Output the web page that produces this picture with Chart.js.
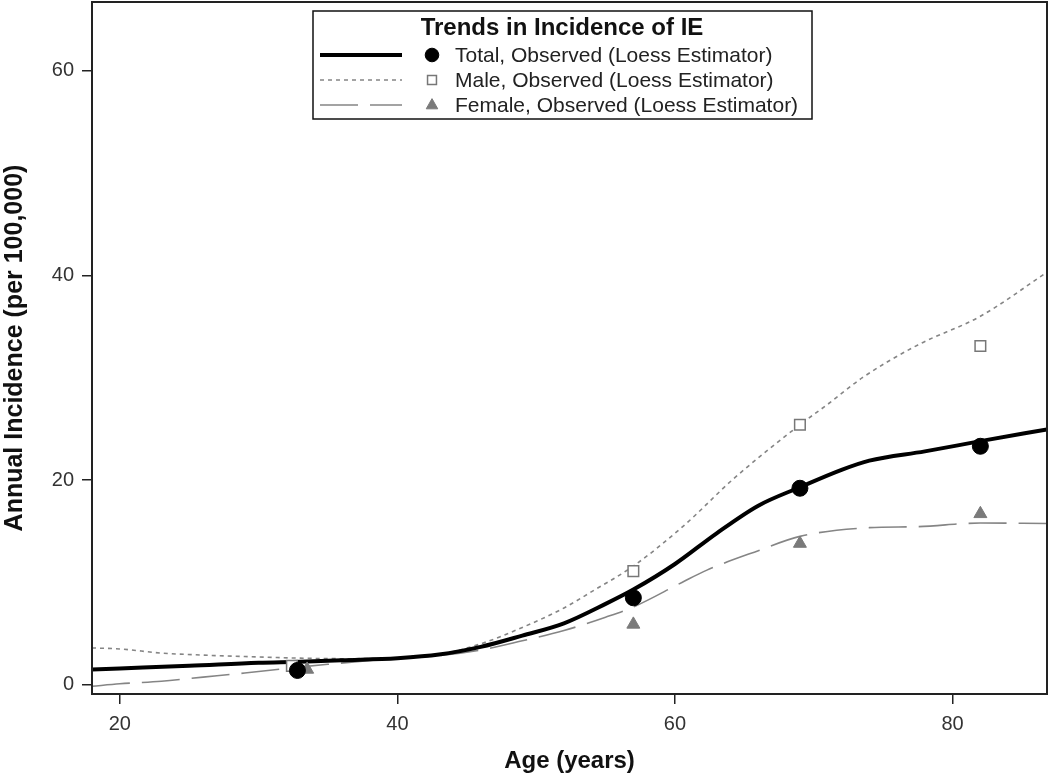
<!DOCTYPE html>
<html>
<head>
<meta charset="utf-8">
<title>Trends in Incidence of IE</title>
<script src="https://cdn.jsdelivr.net/npm/chart.js@4/dist/chart.umd.min.js"></script>
<style>
  html, body { margin: 0; padding: 0; background: #fff; }
  #wrap { position: relative; width: 1050px; height: 779px; }
</style>
</head>
<body>
<div id="wrap"><canvas id="chart" width="1050" height="779"></canvas></div>
<script>
// Loess fitted curves (age grid + values)
const totalAges = [18, 20, 25, 30, 33, 36, 40, 43, 46, 49, 52, 55, 57, 60, 63, 66, 69, 72, 74, 78, 82, 86.8];
const totalFit  = [1.5, 1.6, 1.85, 2.15, 2.25, 2.4, 2.6, 2.95, 3.7, 4.8, 6.0, 7.9, 9.3, 11.8, 14.8, 17.5, 19.3, 21.0, 21.9, 22.8, 23.8, 24.95];

const maleAges = [18, 20, 23, 26, 29, 33, 36, 40, 43, 46, 49, 52, 54, 57, 60.6, 64.2, 69, 71, 73.5, 77.5, 82, 86.8];
const maleFit  = [3.6, 3.5, 3.1, 2.9, 2.76, 2.6, 2.55, 2.6, 2.95, 4.0, 5.6, 7.5, 9.1, 11.6, 15.5, 20.1, 25.4, 27.4, 30.0, 33.2, 36.0, 40.3];

const femaleAges = [18, 20, 23, 26, 29, 32, 35, 40, 43, 46, 49, 52, 55, 57, 60.5, 62.3, 66, 69, 74, 77.5, 82, 86.8];
const femaleFit  = [-0.15, 0.1, 0.35, 0.75, 1.15, 1.6, 2.0, 2.6, 2.85, 3.4, 4.3, 5.3, 6.6, 7.6, 10.0, 11.2, 13.1, 14.5, 15.35, 15.45, 15.8, 15.75];

// Observed values
const totalObsAges  = [32.8, 57, 69, 82];
const totalObs      = [1.4, 8.5, 19.2, 23.3];
const maleObsAges   = [32.4, 57, 69, 82];
const maleObs       = [1.85, 11.1, 25.4, 33.1];
const femaleObsAges = [33.5, 57, 69, 82];
const femaleObs     = [1.5, 5.9, 13.8, 16.7];

const xTicks = [20, 40, 60, 80];
const yTicks = [0, 20, 40, 60];

const legendTitle = 'Trends in Incidence of IE';
const legendLabels = [
  'Total, Observed (Loess Estimator)',
  'Male, Observed (Loess Estimator)',
  'Female, Observed (Loess Estimator)',
];

const pts = (xs, ys) => xs.map((x, i) => ({ x, y: ys[i] }));

const GRAY = '#858585';
const FONT = '"Liberation Sans", Arial, sans-serif';

// frame round the plot area + boxed legend
const framePlugin = {
  id: 'frame',
  afterDraw(chart) {
    const { ctx, chartArea: a } = chart;
    ctx.save();
    ctx.strokeStyle = '#222';
    ctx.lineWidth = 2;
    ctx.strokeRect(a.left, a.top, a.right - a.left, a.bottom - a.top);

    // legend box
    const bx = 313, by = 11, bw = 499, bh = 108;
    ctx.fillStyle = '#fff';
    ctx.fillRect(bx, by, bw, bh);
    ctx.lineWidth = 1.5;
    ctx.strokeStyle = '#111';
    ctx.strokeRect(bx, by, bw, bh);

    ctx.fillStyle = '#111';
    ctx.font = 'bold 24px ' + FONT;
    ctx.textAlign = 'center';
    ctx.textBaseline = 'middle';
    ctx.fillText(legendTitle, 562, 28);

    const rows = [55, 80, 105];
    const lineX0 = 320, lineX1 = 402, markX = 432, textX = 455;
    const ds = chart.data.datasets;
    rows.forEach((y, i) => {
      const ld = ds[i];
      ctx.save();
      ctx.strokeStyle = ld.borderColor;
      ctx.lineWidth = ld.borderWidth;
      ctx.setLineDash(ld.borderDash || []);
      ctx.beginPath();
      ctx.moveTo(lineX0, y);
      ctx.lineTo(lineX1, y);
      ctx.stroke();
      ctx.restore();

      const md = ds[i + 3];
      const r = md.pointRadius * 0.85;
      ctx.save();
      ctx.fillStyle = md.backgroundColor;
      ctx.strokeStyle = md.borderColor;
      ctx.lineWidth = md.borderWidth;
      ctx.beginPath();
      if (md.pointStyle === 'circle') {
        ctx.arc(markX, y, r, 0, Math.PI * 2);
      } else if (md.pointStyle === 'rect') {
        const s = r * 1.4;
        ctx.rect(markX - s / 2, y - s / 2, s, s);
      } else {
        ctx.moveTo(markX, y - r);
        ctx.lineTo(markX + r * 0.9, y + r * 0.6);
        ctx.lineTo(markX - r * 0.9, y + r * 0.6);
        ctx.closePath();
      }
      ctx.fill();
      ctx.stroke();
      ctx.restore();

      ctx.fillStyle = '#222';
      ctx.font = '21px ' + FONT;
      ctx.textAlign = 'left';
      ctx.textBaseline = 'middle';
      ctx.fillText(legendLabels[i], textX, y + 1);
    });
    ctx.restore();
  },
};

function fitX(s) {
  s.height = 85;
  s.paddingLeft = 0;
  s.paddingRight = 0;
}
function fitY(s) {
  s.width = 92;
  s.paddingTop = 0;
  s.paddingBottom = 0;
}

new Chart(document.getElementById('chart').getContext('2d'), {
  type: 'scatter',
  data: {
    datasets: [
      {
        label: 'Total fit',
        data: pts(totalAges, totalFit),
        showLine: true,
        borderColor: '#000',
        borderWidth: 4,
        pointRadius: 0,
        cubicInterpolationMode: 'monotone',
        order: 2,
      },
      {
        label: 'Male fit',
        data: pts(maleAges, maleFit),
        showLine: true,
        borderColor: GRAY,
        borderWidth: 1.6,
        borderDash: [4, 4],
        pointRadius: 0,
        cubicInterpolationMode: 'monotone',
        order: 3,
      },
      {
        label: 'Female fit',
        data: pts(femaleAges, femaleFit),
        showLine: true,
        borderColor: GRAY,
        borderWidth: 1.6,
        borderDash: [38, 12],
        pointRadius: 0,
        cubicInterpolationMode: 'monotone',
        order: 3,
      },
      {
        label: 'Total observed',
        data: pts(totalObsAges, totalObs),
        pointStyle: 'circle',
        pointRadius: 8,
        backgroundColor: '#000',
        borderColor: '#000',
        borderWidth: 1,
        order: 0,
      },
      {
        label: 'Male observed',
        data: pts(maleObsAges, maleObs),
        pointStyle: 'rect',
        pointRadius: 7.5,
        backgroundColor: '#fff',
        borderColor: '#777',
        borderWidth: 1.5,
        order: 1,
      },
      {
        label: 'Female observed',
        data: pts(femaleObsAges, femaleObs),
        pointStyle: 'triangle',
        pointRadius: 7.5,
        backgroundColor: '#7a7a7a',
        borderColor: '#7a7a7a',
        borderWidth: 1,
        order: 1,
      },
    ],
  },
  options: {
    responsive: false,
    animation: false,
    events: [],
    layout: { autoPadding: false, padding: { top: 2, right: 3, left: 0, bottom: 0 } },
    plugins: {
      legend: { display: false },
      tooltip: { enabled: false },
    },
    scales: {
      x: {
        type: 'linear',
        min: 18,
        max: 86.8,
        afterFit: fitX,
        afterBuildTicks: (s) => { s.ticks = xTicks.map((v) => ({ value: v })); },
        border: { display: false },
        grid: { drawOnChartArea: false, drawTicks: true, tickLength: 10, color: '#222', lineWidth: 1.5 },
        ticks: {
          padding: 8,
          color: '#333',
          font: { family: FONT, size: 20 },
          maxRotation: 0,
        },
        title: {
          display: true,
          text: 'Age (years)',
          color: '#111',
          font: { family: FONT, size: 24, weight: 'bold' },
          padding: { top: 0, bottom: 3 },
        },
      },
      y: {
        type: 'linear',
        min: -0.9,
        max: 66.7,
        afterFit: fitY,
        afterBuildTicks: (s) => { s.ticks = yTicks.map((v) => ({ value: v })); },
        border: { display: false },
        grid: { drawOnChartArea: false, drawTicks: true, tickLength: 10, color: '#222', lineWidth: 1.5 },
        ticks: {
          padding: 8,
          color: '#333',
          font: { family: FONT, size: 20 },
        },
        title: {
          display: true,
          text: 'Annual Incidence (per 100,000)',
          color: '#111',
          font: { family: FONT, size: 25, weight: 'bold' },
          padding: { top: 0, bottom: 0 },
        },
      },
    },
  },
  plugins: [framePlugin],
});
</script>
</body>
</html>
